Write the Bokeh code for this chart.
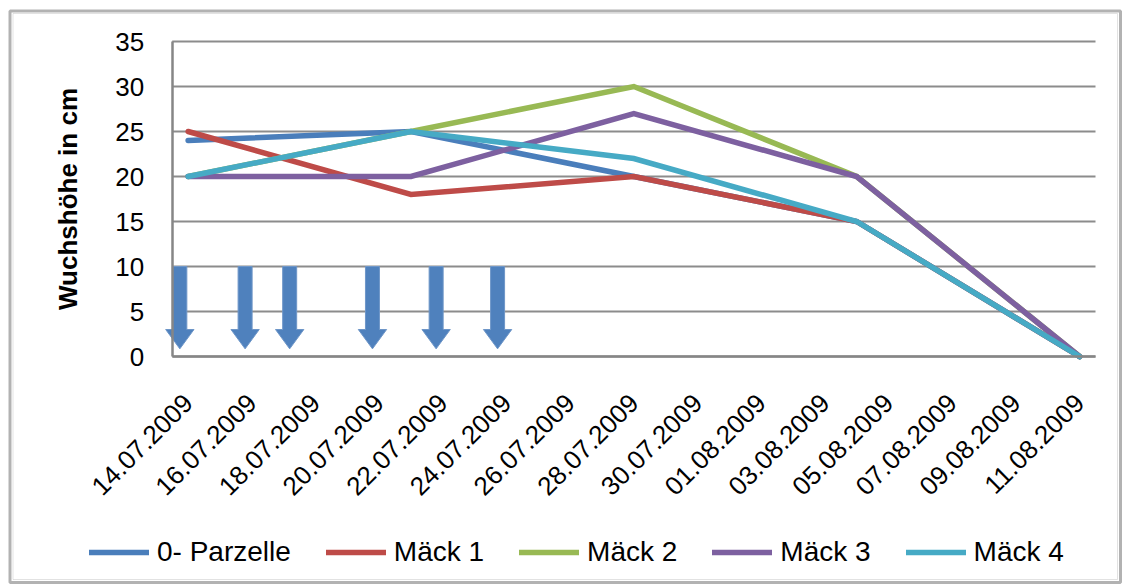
from datetime import date

from bokeh.embed import file_html
from bokeh.models import BoxAnnotation, FixedTicker, Legend, LegendItem, Range1d
from bokeh.plotting import figure
from bokeh.resources import INLINE

# ---- data -------------------------------------------------------------
tick_labels = [
    "14.07.2009", "16.07.2009", "18.07.2009", "20.07.2009", "22.07.2009",
    "24.07.2009", "26.07.2009", "28.07.2009", "30.07.2009", "01.08.2009",
    "03.08.2009", "05.08.2009", "07.08.2009", "09.08.2009", "11.08.2009",
]
measure_dates = ["14.07.2009", "21.07.2009", "28.07.2009", "04.08.2009", "11.08.2009"]

series_names = ["0- Parzelle", "Mäck 1", "Mäck 2", "Mäck 3", "Mäck 4"]
parzelle_0 = [24, 25, 20, 15, 0]
maeck_1 = [25, 18, 20, 15, 0]
maeck_2 = [20, 25, 30, 20, 0]
maeck_3 = [20, 20, 27, 20, 0]
maeck_4 = [20, 25, 22, 15, 0]

# cutting events, in days after 14.07.2009
cut_days = [-0.26, 1.79, 3.19, 5.79, 7.79, 9.72]

y_ticks = [0, 5, 10, 15, 20, 25, 30, 35]

# ---- helpers ----------------------------------------------------------
START = date(2009, 7, 14)


def day_index(s):
    d, m, y = (int(v) for v in s.split("."))
    return (date(y, m, d) - START).days


FONT = "Liberation Sans"
COLORS = ["#4A7EBB", "#BE4B48", "#98B954", "#7D60A0", "#46AAC5"]
GRID = "#8C8C8C"
AXIS = "#868686"

W, H = 1131, 585
# plot area inside the canvas (pixels)
PA_LEFT, PA_RIGHT, PA_TOP, PA_BOTTOM = 171.7, 1095.0, 41.0, 356.0

x_meas = [day_index(s) for s in measure_dates]
x_ticks = [day_index(s) for s in tick_labels]

x_lo, x_hi = -0.5, x_ticks[-1] + 0.5
y_lo, y_hi = 0, 35
px_x = (PA_RIGHT - PA_LEFT) / (x_hi - x_lo)
px_y = (PA_BOTTOM - PA_TOP) / (y_hi - y_lo)

# the frame covers the whole canvas; axes sit at fixed data positions
p = figure(
    width=W, height=H,
    output_backend="svg", toolbar_location=None,
    x_range=Range1d(x_lo - PA_LEFT / px_x, x_hi + (W - PA_RIGHT) / px_x),
    y_range=Range1d(y_lo - (H - PA_BOTTOM) / px_y, y_hi + PA_TOP / px_y),
    min_border_left=0, min_border_right=0,
    min_border_top=0, min_border_bottom=0,
    background_fill_color="white", border_fill_color="white",
)
p.outline_line_color = None
p.xgrid.visible = False
p.ygrid.visible = False

# horizontal gridlines over the plot area only
p.segment(x0=x_lo, x1=x_hi, y0=y_ticks, y1=y_ticks,
          line_color=GRID, line_width=2)

# ---- axes -------------------------------------------------------------
p.xaxis.fixed_location = y_lo
p.xaxis.bounds = (x_lo, x_hi)
p.yaxis.fixed_location = x_lo
p.yaxis.bounds = (y_lo, y_hi)

p.yaxis.ticker = FixedTicker(ticks=y_ticks)
p.xaxis.ticker = FixedTicker(ticks=x_ticks)
p.xaxis.major_label_overrides = {t: lbl for t, lbl in zip(x_ticks, tick_labels)}
p.xaxis.major_label_orientation = 0.785398

for ax in (p.xaxis, p.yaxis):
    ax.axis_line_color = AXIS
    ax.axis_line_width = 2.5
    ax.major_tick_in = 0
    ax.major_tick_out = 0
    ax.minor_tick_in = 0
    ax.minor_tick_out = 0
    ax.major_label_text_font = FONT
    ax.major_label_text_color = "black"

p.xaxis.major_label_text_font_size = "26px"
p.xaxis.major_label_standoff = 42
p.yaxis.major_label_text_font_size = "26px"
p.yaxis.major_label_standoff = 28

p.yaxis.axis_label = "Wuchshöhe in cm"
p.yaxis.axis_label_text_font = FONT
p.yaxis.axis_label_text_font_style = "bold"
p.yaxis.axis_label_text_font_size = "26px"
p.yaxis.axis_label_text_color = "black"
p.yaxis.axis_label_standoff = 30

# ---- cutting arrows ---------------------------------------------------
SHAFT_HALF = 0.22
HEAD_HALF = 0.445
ARROW_TOP, HEAD_BASE, ARROW_TIP = 10, 3, 0.85
arrow_xs, arrow_ys = [], []
for c in cut_days:
    arrow_xs.append([c - SHAFT_HALF, c + SHAFT_HALF, c + SHAFT_HALF, c + HEAD_HALF,
                     c, c - HEAD_HALF, c - SHAFT_HALF])
    arrow_ys.append([ARROW_TOP, ARROW_TOP, HEAD_BASE, HEAD_BASE,
                     ARROW_TIP, HEAD_BASE, HEAD_BASE])
p.patches(arrow_xs, arrow_ys, fill_color="#4F81BD", line_color="#6E96C8", line_width=1)

# ---- series -----------------------------------------------------------
items = []
for name, vals, col in zip(series_names,
                           [parzelle_0, maeck_1, maeck_2, maeck_3, maeck_4],
                           COLORS):
    r = p.line(x_meas, vals, line_color=col, line_width=5.5,
               line_join="miter", line_cap="round")
    items.append(LegendItem(label=name, renderers=[r]))

legend = Legend(
    items=items, orientation="horizontal",
    location=(89, 17),
    glyph_width=60, glyph_height=20,
    label_standoff=8, spacing=35,
    padding=0, margin=0,
    border_line_color=None, background_fill_alpha=0,
    label_text_font=FONT, label_text_font_size="28px",
    label_text_color="black",
)
p.add_layout(legend)

# ---- chart border -----------------------------------------------------
p.add_layout(BoxAnnotation(left=9.5, right=1120, top=10.5, bottom=582,
                           left_units="canvas", right_units="canvas",
                           top_units="canvas", bottom_units="canvas",
                           fill_alpha=0, line_color="black", line_width=3,
                           level="overlay"))
p.add_layout(BoxAnnotation(left=12.5, right=1117, top=13, bottom=579,
                           left_units="canvas", right_units="canvas",
                           top_units="canvas", bottom_units="canvas",
                           fill_alpha=0, line_color="#A0A0A0", line_width=1,
                           level="overlay"))

open("out.html", "w").write(file_html(p, INLINE))
